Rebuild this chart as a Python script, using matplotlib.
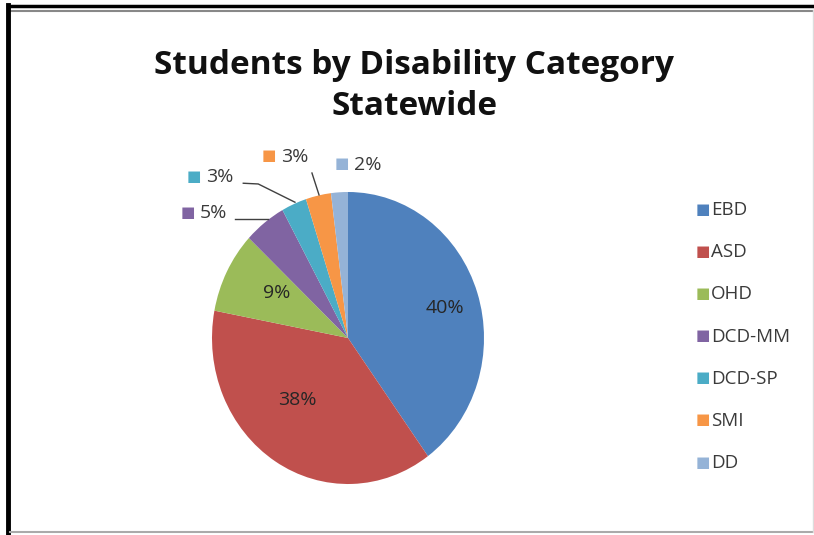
import matplotlib.pyplot as plt
from matplotlib.lines import Line2D

# data
categories = ['EBD', 'ASD', 'OHD', 'DCD-MM', 'DCD-SP', 'SMI', 'DD']
shares = [40, 38, 9, 5, 3, 3, 2]
colors = ['#4F81BD', '#C0504D', '#9BBB59', '#8064A2', '#4BACC6', '#F79646', '#95B3D7']

plt.rcParams['font.family'] = ['Open Sans', 'DejaVu Sans']
text_col = '#3a3a3a'

fig = plt.figure(figsize=(8.14, 5.35), dpi=100)
W, H = 814, 535

# pie centre (348, 338) px, slightly stretched vertically like the source image
cx, cy, rx, ry = 348, 338, 136, 146
ax = fig.add_axes([(cx - rx) / W, (H - cy - ry) / H, 2 * rx / W, 2 * ry / H])
wedges, _ = ax.pie(shares, colors=colors, startangle=90, counterclock=False)
ax.set_xlim(-1, 1)
ax.set_ylim(-1, 1)
ax.set_aspect('auto')

# inside labels for the big slices (positions as placed in the original)
inside = {0: (0.713, 0.205), 1: (-0.375, -0.425), 2: (-0.522, 0.308)}
for i, (tx, ty) in inside.items():
    ax.text(tx, ty, f'{shares[i]}%', ha='center', va='center', fontsize=14, color='#262626')

# outside labels (with legend key) for the small slices
outside = {3: (-1.088, 0.856), 4: (-1.044, 1.10), 5: (-0.493, 1.24), 6: (0.044, 1.185)}
leaders = {3: [(-0.83, 0.815), (-0.59, 0.815)],
           4: [(-0.77, 1.06), (-0.66, 1.055), (-0.39, 0.93)],
           5: [(-0.265, 1.13), (-0.213, 0.98)]}
for i, (tx, ty) in outside.items():
    ax.text(tx, ty, f'{shares[i]}%', ha='left', va='center', fontsize=14,
            color=text_col, clip_on=False)
    ax.text(tx - 0.04, ty, '\u25A0', ha='right', va='center', fontsize=11,
            color=colors[i], clip_on=False)
    if i in leaders:
        xs, ys = zip(*leaders[i])
        ax.plot(xs, ys, color='#404040', lw=1, clip_on=False)

# legend
for i, cat in enumerate(categories):
    y = 1 - (210 + 42.2 * i) / H
    fig.text(696 / W, y, '\u25A0', color=colors[i], fontsize=11, ha='left', va='center')
    fig.text(711 / W, y, cat, color=text_col, fontsize=13.5, ha='left', va='center')

fig.text(414 / W, 1 - 86 / H, 'Students by Disability Category\nStatewide',
         ha='center', va='center', fontsize=24, fontweight='bold', color='#111111',
         linespacing=1.35)

# frame
fig.add_artist(Line2D([8 / W, 1], [1 - 6 / H, 1 - 6 / H], color='black', lw=2.5))
fig.add_artist(Line2D([8 / W, 1], [1 - 10.5 / H, 1 - 10.5 / H], color='#888888', lw=1.5))
fig.add_artist(Line2D([8 / W, 8 / W], [0, 1 - 5 / H], color='black', lw=3.5))
fig.add_artist(Line2D([10 / W, 1], [3 / H, 3 / H], color='#aaaaaa', lw=1.5))
fig.add_artist(Line2D([812.5 / W, 812.5 / W], [3 / H, 1 - 10 / H], color='#dddddd', lw=1))

fig.savefig('out.png', dpi=100)
